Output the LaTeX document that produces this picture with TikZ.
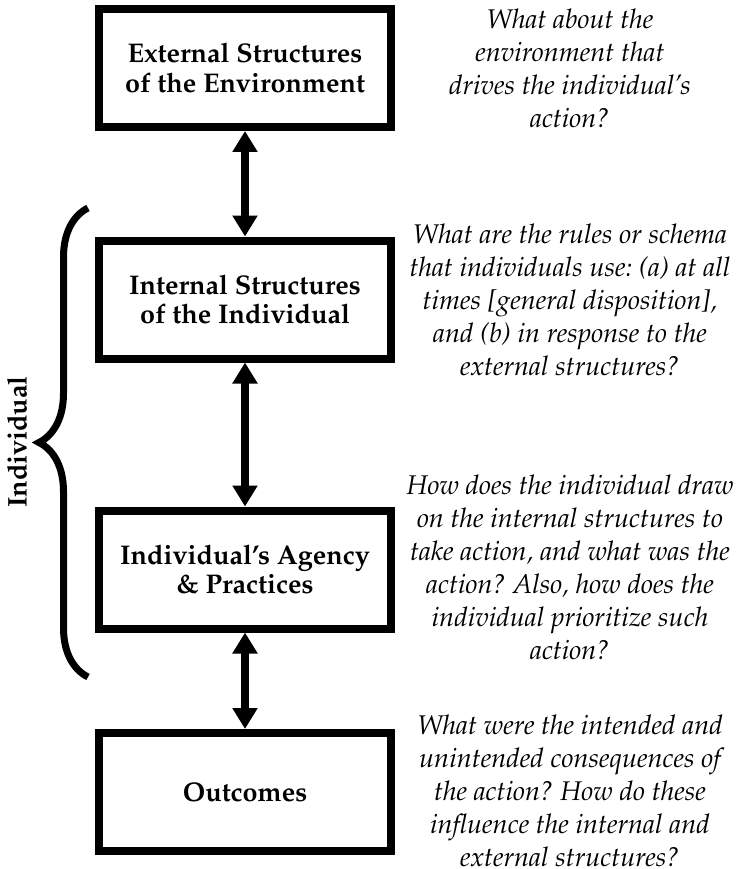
\documentclass[tikz,border=0pt]{standalone}
\usepackage[T1]{fontenc}
\usepackage{mathpazo}
\usepackage{tikz}
\usetikzlibrary{arrows.meta,decorations.pathreplacing}
\frenchspacing

\begin{document}
\begin{tikzpicture}[x=1pt, y=1pt,
  box/.style={draw, line width=8pt, minimum width=292pt, minimum height=118pt, align=center, font=\fontsize{27}{29.5}\selectfont\bfseries},
  question/.style={align=center, inner sep=0pt, font=\fontsize{27}{33}\selectfont\itshape},
  link/.style={line width=8pt, {Triangle[width=24pt,length=21pt]}-{Triangle[width=24pt,length=21pt]}},
  bracket/.style={line width=7pt, decorate, decoration={brace, amplitude=49pt}}]
\useasboundingbox (0,0) rectangle (741,-869);
\def\boxx{245}
\def\qx{570}
\node[box] (ext) at (\boxx,-68) {External Structures\\of the Environment};
\node[box] (int) at (\boxx,-299.5) {Internal Structures\\of the Individual};
\node[box] (agency) at (\boxx,-569.5) {Individual's Agency\\\& Practices};
\node[box] (out) at (\boxx,-792) {Outcomes};
\foreach \a/\b in {ext/int, int/agency, agency/out}
  \draw[link] (\a) -- (\b);
\node[question] (q1) at (\qx,-68) {What about the\\environment that\\drives the individual's\\action?};
\node[question] (q2) at (\qx,-299.5) {What are the rules or schema\\that individuals use: (a) at all\\times [general disposition],\\and (b) in response to the\\external structures?};
\node[question] (q3) at (\qx,-567) {How does the individual draw\\on the internal structures to\\take action, and what was the\\action? Also, how does the\\individual prioritize such\\action?};
\node[question] (q4) at (\qx,-791) {What were the intended and\\unintended consequences of\\the action? How do these\\influence the internal and\\external structures?};
\coordinate (brtop) at (88,-208);
\coordinate (brbot) at (88,-677);
\draw[bracket] (brbot) -- (brtop);
\node[rotate=90, font=\fontsize{27}{29.5}\selectfont\bfseries] (indiv) at (17,-442) {Individual};
\end{tikzpicture}
\end{document}
